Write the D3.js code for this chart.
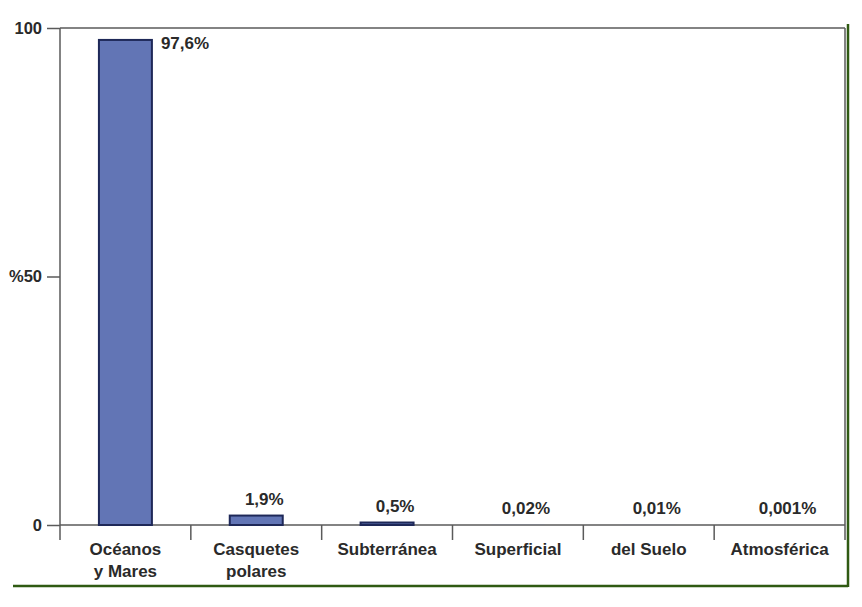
<!DOCTYPE html>
<html><head><meta charset="utf-8">
<script src="https://cdn.jsdelivr.net/npm/d3@7"></script>
<style>
html,body{margin:0;padding:0;background:#fff;}
svg{display:block;font-family:"Liberation Sans",Arial,sans-serif;}
</style></head>
<body>
<svg id="chart" width="862" height="607"></svg>
<script>
const categories = [["Océanos","y Mares"],["Casquetes","polares"],["Subterránea"],["Superficial"],["del Suelo"],["Atmosférica"]];
const values = [97.6, 1.9, 0.5, 0.02, 0.01, 0.001];
const valueLabels = ["97,6%","1,9%","0,5%","0,02%","0,01%","0,001%"];
const yTicks = [0, 50, 100];
const yTickLabels = ["0","%50","100"];

const svg = d3.select("#chart");
const pLeft = 60, pRight = 845, pTop = 28, pBottom = 525;
const x = d3.scaleBand().domain(d3.range(categories.length)).range([pLeft, pRight]).paddingInner(0.595).paddingOuter(0.2975);
const y = d3.scaleLinear().domain([0, 100]).range([pBottom, pTop]);

const axisColor = "#5a5a5a";
const textColor = "#2a2a2a";
svg.append("line").attr("x1", pLeft).attr("x2", pRight).attr("y1", pTop).attr("y2", pTop).attr("stroke", axisColor).attr("stroke-width", 1.5);
svg.append("line").attr("x1", pRight).attr("x2", pRight).attr("y1", pTop).attr("y2", pBottom + 15).attr("stroke", axisColor).attr("stroke-width", 1.5);

const yAxis = d3.axisLeft(y).tickValues(yTicks).tickSize(13).tickFormat(d => yTickLabels[yTicks.indexOf(d)]).tickPadding(5);
const gy = svg.append("g").attr("transform", `translate(${pLeft},0)`).call(yAxis);
gy.select(".domain").remove();
gy.selectAll("line").attr("stroke", axisColor).attr("stroke-width", 1.5);
gy.selectAll("text").attr("fill", textColor).attr("font-size", 16.5).attr("font-weight", "bold").attr("font-family", "Liberation Sans, Arial, sans-serif");
svg.append("line").attr("x1", pLeft).attr("x2", pLeft).attr("y1", pTop).attr("y2", pBottom + 15).attr("stroke", axisColor).attr("stroke-width", 1.5);

svg.append("line").attr("x1", pLeft).attr("x2", pRight).attr("y1", pBottom).attr("y2", pBottom).attr("stroke", axisColor).attr("stroke-width", 1.5);
const xTickPos = d3.range(1, categories.length).map(i => pLeft + i * (pRight - pLeft) / categories.length);
svg.selectAll(".xt").data(xTickPos).enter().append("line")
  .attr("x1", d => d).attr("x2", d => d).attr("y1", pBottom).attr("y2", pBottom + 15)
  .attr("stroke", axisColor).attr("stroke-width", 1.5);

svg.selectAll(".bar").data(values).enter().append("rect")
  .attr("x", (d,i) => x(i)).attr("width", x.bandwidth())
  .attr("y", d => y(d)).attr("height", d => pBottom - y(d))
  .attr("fill", "#6275b5")
  .attr("stroke", d => (pBottom - y(d)) > 1 ? "#1e2858" : "none")
  .attr("stroke-width", 2);

svg.selectAll(".vl").data(values).enter().append("text")
  .attr("x", (d,i) => i === 0 ? x(i) + x.bandwidth() + 9 : x(i) + x.bandwidth()/2 + 8)
  .attr("y", (d,i) => i === 0 ? y(d) + 9 : y(d) - 11)
  .attr("text-anchor", (d,i) => i === 0 ? "start" : "middle")
  .attr("font-size", 17).attr("font-weight", "bold").attr("fill", textColor)
  .text((d,i) => valueLabels[i]);

categories.forEach((lines, i) => {
  const cx = x(i) + x.bandwidth()/2;
  const t = svg.append("text").attr("x", cx).attr("y", 555).attr("text-anchor", "middle")
    .attr("font-size", 17).attr("font-weight", "bold").attr("fill", textColor);
  lines.forEach((ln, j) => t.append("tspan").attr("x", cx).attr("dy", j === 0 ? 0 : 22).text(ln));
});

svg.append("line").attr("x1", 13).attr("x2", 848).attr("y1", 586).attr("y2", 586).attr("stroke", "#2f5a12").attr("stroke-width", 2.5);
svg.append("line").attr("x1", 848).attr("x2", 848).attr("y1", 24).attr("y2", 587).attr("stroke", "#2f5a12").attr("stroke-width", 2.5);
</script>
</body></html>
